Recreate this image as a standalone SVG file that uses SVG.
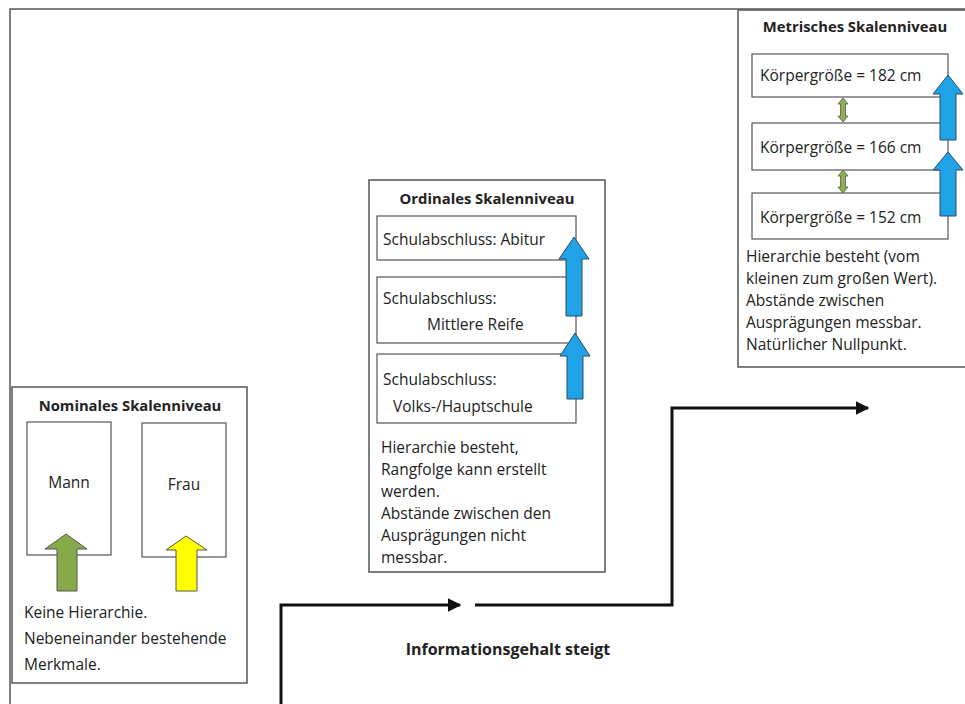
<svg xmlns="http://www.w3.org/2000/svg" width="965" height="704" viewBox="0 0 965 704">
<defs>
<marker id="ah" viewBox="0 0 10 10" refX="9" refY="5" markerWidth="4.5" markerHeight="4.5" orient="auto" markerUnits="strokeWidth">
<path d="M0,0 L10,5 L0,10 z" fill="#111"/>
</marker>
</defs>
<style>
.box{fill:#fff;stroke:#555;stroke-width:1.5}
.in{fill:#fff;stroke:#555;stroke-width:1.2}
.t{font-family:"Open Sans","Liberation Sans",sans-serif;font-size:15.5px;fill:#222}
.b{font-family:"Open Sans","Liberation Sans",sans-serif;font-size:14.8px;font-weight:bold;fill:#222}
.blue{fill:#1FA3E6;stroke:#2a4a6a;stroke-width:1}
.conn{fill:none;stroke:#111;stroke-width:3}
</style>
<rect width="965" height="704" fill="#fff"/>
<g id="frame">
<path d="M10,704 L10,9 L965,9" fill="none" stroke="#555" stroke-width="1.5"/>
</g>
<g id="nominal">
<rect class="box" x="12" y="387" width="235" height="296"/>
<text class="b" x="130" y="411" text-anchor="middle">Nominales Skalenniveau</text>
<rect class="in" x="27" y="422" width="84" height="133"/>
<rect class="in" x="142" y="423" width="84" height="134"/>
<text class="t" x="69" y="488" text-anchor="middle">Mann</text>
<text class="t" x="184" y="490" text-anchor="middle">Frau</text>
<polygon points="66,534 87,549 77,549 77,591 57,591 57,549 45,549" fill="#86A94A" stroke="#555" stroke-width="1"/>
<polygon points="186,536 207,550 197,550 197,591 176,591 176,550 166,550" fill="#FFFF00" stroke="#555" stroke-width="1"/>
<text class="t" x="24" y="618">Keine Hierarchie.</text>
<text class="t" x="24" y="644">Nebeneinander bestehende</text>
<text class="t" x="24" y="670">Merkmale.</text>
</g>
<g id="ordinal">
<rect class="box" x="369" y="180" width="236" height="392"/>
<text class="b" x="487" y="204" text-anchor="middle">Ordinales Skalenniveau</text>
<rect class="in" x="377" y="216" width="199" height="44"/>
<text class="t" x="383" y="245">Schulabschluss: Abitur</text>
<rect class="in" x="377" y="277" width="199" height="66"/>
<text class="t" x="383" y="304">Schulabschluss:</text>
<text class="t" x="427" y="330">Mittlere Reife</text>
<rect class="in" x="377" y="354" width="199" height="69"/>
<text class="t" x="383" y="385">Schulabschluss:</text>
<text class="t" x="393" y="412">Volks-/Hauptschule</text>
<polygon class="blue" points="574,237 589,259 582,259 582,316 566,316 566,259 559,259"/>
<polygon class="blue" points="575,333 590,356 583,356 583,399 567,399 567,356 560,356"/>
<text class="t" x="381" y="453">Hierarchie besteht,</text>
<text class="t" x="381" y="475">Rangfolge kann erstellt</text>
<text class="t" x="381" y="497">werden.</text>
<text class="t" x="381" y="519">Abstände zwischen den</text>
<text class="t" x="381" y="541">Ausprägungen nicht</text>
<text class="t" x="381" y="563">messbar.</text>
</g>
<g id="metric">
<rect class="box" x="738" y="10" width="240" height="357"/>
<text class="b" x="855" y="32" text-anchor="middle">Metrisches Skalenniveau</text>
<rect class="in" x="752" y="54" width="196" height="43"/>
<text class="t" x="760" y="81">Körpergröße = 182 cm</text>
<rect class="in" x="752" y="123" width="196" height="47"/>
<text class="t" x="760" y="153">Körpergröße = 166 cm</text>
<rect class="in" x="752" y="193" width="196" height="46"/>
<text class="t" x="760" y="223">Körpergröße = 152 cm</text>
<polygon points="843,98 848,104 845.5,104 845.5,116 848,116 843,122 838,116 840.5,116 840.5,104 838,104" fill="#8CB04C" stroke="#555" stroke-width="0.8"/>
<polygon points="843,170 848,176 845.5,176 845.5,187 848,187 843,193 838,187 840.5,187 840.5,176 838,176" fill="#8CB04C" stroke="#555" stroke-width="0.8"/>
<polygon class="blue" points="948,75 963,94 956,94 956,140 940,140 940,94 933,94"/>
<polygon class="blue" points="948,152 963,170 956,170 956,216 940,216 940,170 933,170"/>
<text class="t" x="746" y="262">Hierarchie besteht (vom</text>
<text class="t" x="746" y="284">kleinen zum großen Wert).</text>
<text class="t" x="746" y="306">Abstände zwischen</text>
<text class="t" x="746" y="328">Ausprägungen messbar.</text>
<text class="t" x="746" y="350">Natürlicher Nullpunkt.</text>
</g>
<g id="connectors">
<path class="conn" d="M281,704 L281,605 L460,605" marker-end="url(#ah)"/>
<path class="conn" d="M475,605 L672,605 L672,408 L868,408" marker-end="url(#ah)"/>
</g>
<g id="label">
<text class="b" x="508" y="655" text-anchor="middle" style="font-size:16px">Informationsgehalt steigt</text>
</g>
</svg>
